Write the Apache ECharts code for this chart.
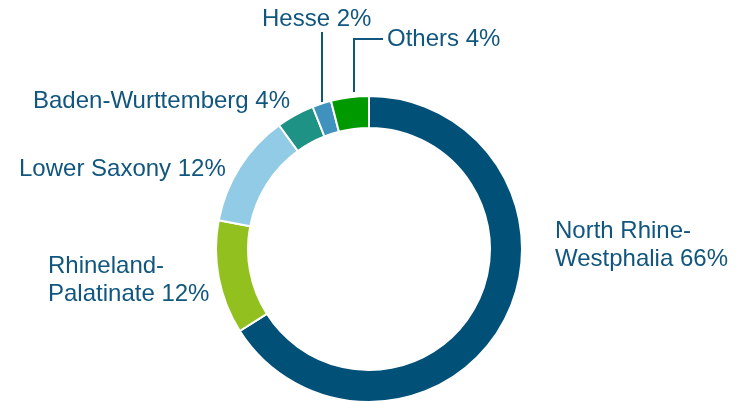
<!DOCTYPE html>
<html>
<head>
<meta charset="utf-8">
<script src="https://cdn.jsdelivr.net/npm/echarts@6/dist/echarts.min.js"></script>
<style>
html, body { margin: 0; padding: 0; background: #fff; }
#chart { width: 743px; height: 402px; }
</style>
</head>
<body>
<div id="chart"></div>
<script>
// state shares, clockwise from 12 o'clock
var states = ['North Rhine-\nWestphalia', 'Rhineland-\nPalatinate', 'Lower Saxony', 'Baden-Wurttemberg', 'Hesse', 'Others']
var shares = [66, 12, 12, 4, 2, 4]
var colors = ['#005078', '#92c01f', '#92cbe6', '#1e9284', '#4092be', '#009a00']

var textColor = '#10567f'

// where each label sits (left edge, vertical middle)
var labelPos = [
    { x: 555, y: 245 },
    { x: 48, y: 280 },
    { x: 19, y: 169 },
    { x: 33, y: 101 },
    { x: 262, y: 19 },
    { x: 387, y: 39 }
]
// leader lines for the two small slices
var leaders = {
    4: [[322, 102], [322, 32], [322, 32]],
    5: [[354, 92], [354, 39], [383, 39]]
}

var pieData = states.map(function (name, i) {
    return {
        name: name,
        value: shares[i],
        itemStyle: { color: colors[i] },
        labelLine: { show: !!leaders[i] }
    }
})

var chart = echarts.init(document.getElementById('chart'))
chart.setOption({
    animation: false,
    series: [{
        type: 'pie',
        center: [369, 249],
        radius: [121, 153],
        startAngle: 90,
        clockwise: true,
        avoidLabelOverlap: false,
        itemStyle: { borderColor: '#fff', borderWidth: 2 },
        label: {
            show: true,
            formatter: function (p) { return p.name + ' ' + p.value + '%' },
            color: textColor,
            fontFamily: 'Liberation Sans, Arial, sans-serif',
            fontSize: 24,
            lineHeight: 28
        },
        labelLine: {
            lineStyle: { color: textColor, width: 2 }
        },
        labelLayout: function (params) {
            var i = params.dataIndex
            var out = {
                x: labelPos[i].x,
                y: labelPos[i].y,
                align: 'left',
                verticalAlign: 'middle'
            }
            if (leaders[i]) out.labelLinePoints = leaders[i]
            return out
        },
        emphasis: { disabled: true },
        data: pieData
    }]
})
</script>
</body>
</html>
